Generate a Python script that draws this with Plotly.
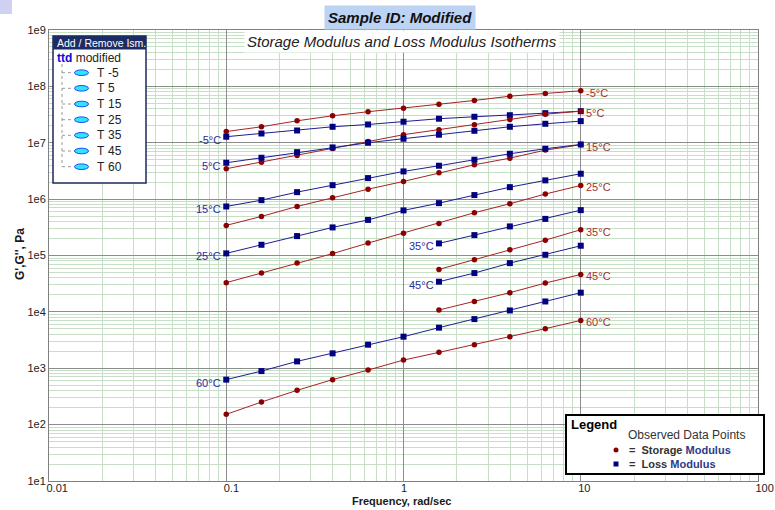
import math
import plotly.graph_objects as go

# ---------------- data ----------------
freq_full = [0.1, 0.158, 0.251, 0.398, 0.631, 1.0, 1.585, 2.512, 3.981, 6.31, 10.0]
freq_high = [1.585, 2.512, 3.981, 6.31, 10.0]

temps = ["-5", "5", "15", "25", "35", "45", "60"]

storage_m5 = [1.58e7, 1.92e7, 2.45e7, 3.01e7, 3.55e7, 4.10e7, 4.83e7, 5.62e7, 6.70e7, 7.48e7, 8.36e7]
loss_m5 = [1.28e7, 1.46e7, 1.65e7, 1.92e7, 2.11e7, 2.36e7, 2.67e7, 2.89e7, 3.08e7, 3.35e7, 3.63e7]
storage_5 = [3.46e6, 4.53e6, 5.96e6, 7.93e6, 1.05e7, 1.39e7, 1.70e7, 2.08e7, 2.59e7, 3.21e7, 3.63e7]
loss_5 = [4.42e6, 5.42e6, 6.81e6, 8.26e6, 1.0e7, 1.18e7, 1.39e7, 1.63e7, 1.92e7, 2.17e7, 2.42e7]
storage_15 = [3.42e5, 4.93e5, 7.41e5, 1.06e6, 1.50e6, 2.06e6, 2.94e6, 4.07e6, 5.33e6, 7.40e6, 9.23e6]
loss_15 = [7.41e5, 9.59e5, 1.33e6, 1.77e6, 2.36e6, 3.10e6, 3.91e6, 5.00e6, 6.38e6, 7.83e6, 9.33e6]
storage_25 = [3.30e4, 4.88e4, 7.33e4, 1.08e5, 1.66e5, 2.49e5, 3.71e5, 5.74e5, 8.28e5, 1.23e6, 1.75e6]
loss_25 = [1.09e5, 1.55e5, 2.21e5, 3.15e5, 4.28e5, 6.31e5, 8.49e5, 1.18e6, 1.63e6, 2.15e6, 2.82e6]
storage_35 = [5.67e4, 8.43e4, 1.27e5, 1.87e5, 2.87e5]
loss_35 = [1.64e5, 2.30e5, 3.28e5, 4.46e5, 6.38e5]
storage_45 = [1.08e4, 1.52e4, 2.19e4, 3.24e4, 4.62e4]
loss_45 = [3.43e4, 4.88e4, 7.33e4, 1.03e5, 1.49e5]
storage_60 = [152, 252, 406, 628, 929, 1396, 1914, 2618, 3631, 5035, 7063]
loss_60 = [628, 891, 1324, 1837, 2618, 3631, 5248, 7447, 1.06e4, 1.53e4, 2.19e4]

series = [
    ("-5", freq_full, storage_m5, loss_m5),
    ("5", freq_full, storage_5, loss_5),
    ("15", freq_full, storage_15, loss_15),
    ("25", freq_full, storage_25, loss_25),
    ("35", freq_high, storage_35, loss_35),
    ("45", freq_high, storage_45, loss_45),
    ("60", freq_full, storage_60, loss_60),
]

x_tick_vals = [0.01, 0.1, 1, 10, 100]
x_tick_text = ["0.01", "0.1", "1", "10", "100"]
y_tick_vals = [1e1, 1e2, 1e3, 1e4, 1e5, 1e6, 1e7, 1e8, 1e9]
y_tick_text = ["1e1", "1e2", "1e3", "1e4", "1e5", "1e6", "1e7", "1e8", "1e9"]

# ---------------- style ----------------
W, H = 775, 510
L, R, T, B = 49, 17, 30, 29
PW, PH = W - L - R, H - T - B
FONT = "Liberation Sans, Arial, sans-serif"
RED_M, RED_L, RED_T = "#8b0000", "#a42424", "#a83030"
BLU_M, BLU_L, BLU_T = "#000080", "#1e1e90", "#2c2ca0"


def px(x):
    return (x - L) / PW


def py(y):
    return 1 - (y - T) / PH


def note(x, y, text, size=12, color="#222", xanchor="left", **kw):
    d = dict(x=px(x), y=py(y), xref="paper", yref="paper", text=text, showarrow=False,
             xanchor=xanchor, yanchor="middle", font=dict(family=FONT, size=size, color=color))
    d.update(kw)
    return d


fig = go.Figure()

annotations = []
for name, fx, st, ls in series:
    fig.add_trace(go.Scatter(x=fx, y=st, mode="lines+markers", showlegend=False,
                             line=dict(color=RED_L, width=1),
                             marker=dict(symbol="circle", size=5.5, color=RED_M)))
    fig.add_trace(go.Scatter(x=fx, y=ls, mode="lines+markers", showlegend=False,
                             line=dict(color=BLU_L, width=1),
                             marker=dict(symbol="square", size=6, color=BLU_M)))
    annotations.append(dict(x=math.log10(fx[0]), y=math.log10(ls[0]), xref="x", yref="y",
                            text=name + "°C", showarrow=False, xanchor="right", yanchor="middle",
                            xshift=-3, yshift=-3, font=dict(family=FONT, size=11, color=BLU_T)))
    annotations.append(dict(x=math.log10(fx[-1]), y=math.log10(st[-1]), xref="x", yref="y",
                            text=name + "°C", showarrow=False, xanchor="left", yanchor="middle",
                            xshift=3, yshift=-2, font=dict(family=FONT, size=11, color=RED_T)))

minor_vals = [k * 10 ** e for e in range(-2, 9) for k in range(2, 10)]

fig.update_xaxes(type="log", range=[-2, 2], tickmode="array", tickvals=x_tick_vals,
                 ticktext=x_tick_text, ticks="", ticklabelposition="outside right",
                 ticklabeloverflow="allow", ticklabelshift=-3, ticklabelstandoff=-3,
                 tickfont=dict(family=FONT, size=11, color="#222"),
                 showgrid=True, gridcolor="#8c8c8c", gridwidth=1, zeroline=False,
                 showline=True, linecolor="#808080", linewidth=1, mirror=True,
                 minor=dict(tickmode="array", tickvals=[v for v in minor_vals if 0.01 < v < 100],
                            showgrid=True, gridcolor="#c6dfc6", gridwidth=1, ticks=""),
                 automargin=False)
fig.update_yaxes(type="log", range=[1, 9], tickmode="array", tickvals=y_tick_vals,
                 ticktext=y_tick_text, ticks="",
                 tickfont=dict(family=FONT, size=11, color="#222"),
                 showgrid=True, gridcolor="#8c8c8c", gridwidth=1, zeroline=False,
                 showline=True, linecolor="#808080", linewidth=1, mirror=True,
                 minor=dict(tickmode="array", tickvals=[v for v in minor_vals if 10 < v < 1e9],
                            showgrid=True, gridcolor="#c6dfc6", gridwidth=1, ticks=""),
                 automargin=False)

shapes = []
# corner decoration
shapes.append(dict(type="rect", xref="paper", yref="paper", x0=px(0), x1=px(12), y0=py(0), y1=py(14),
                   fillcolor="#cfd0f2", line=dict(width=0), layer="above"))
annotations.append(note(400, 17, "<b><i>Sample ID: Modified</i></b>", size=15, color="#111",
                        xanchor="center", bgcolor="#bcd3f4", borderpad=3))
annotations.append(note(402, 41, "<i>Storage Modulus and Loss Modulus Isotherms</i>", size=15,
                        color="#222", xanchor="center", bgcolor="white", borderpad=2))
# axis titles
annotations.append(note(20, 254, "<b>G',G'', Pa</b>", size=12, color="#1a1a1a", xanchor="center",
                        textangle=-90))
annotations.append(note(401, 501, "<b>Frequency, rad/sec</b>", size=11, color="#1a1a1a",
                        xanchor="center"))

# ---- left panel "Add / Remove Ism." ----
shapes.append(dict(type="rect", xref="paper", yref="paper", x0=px(53), x1=px(146), y0=py(36), y1=py(183),
                   fillcolor="white", line=dict(color="#1c2a5c", width=1.5), layer="above"))
shapes.append(dict(type="rect", xref="paper", yref="paper", x0=px(53), x1=px(146), y0=py(36), y1=py(49.5),
                   fillcolor="#1c2c64", line=dict(width=0), layer="above"))
annotations.append(note(54.5, 42.8, "Add / Remove Ism.", size=10.5, color="white"))
annotations.append(note(55, 58, "<b><span style='color:#0a0ad8'>ttd</span></b> modified", size=12))
item_y = [72.7, 88.3, 104, 119.7, 135.3, 151, 166.7]
shapes.append(dict(type="line", xref="paper", yref="paper", x0=px(62), x1=px(62), y0=py(64), y1=py(item_y[-1]),
                   line=dict(color="#9a9a9a", width=1, dash="dot"), layer="above"))
for t, yy in zip(temps, item_y):
    shapes.append(dict(type="line", xref="paper", yref="paper", x0=px(62), x1=px(74), y0=py(yy), y1=py(yy),
                       line=dict(color="#9a9a9a", width=1, dash="dot"), layer="above"))
    shapes.append(dict(type="circle", xref="paper", yref="paper", x0=px(74.5), x1=px(88.5),
                       y0=py(yy - 2.8), y1=py(yy + 2.8),
                       fillcolor="#2ee4ff", line=dict(color="#1848f0", width=1), layer="above"))
    annotations.append(note(95, yy, "T", size=12))
    annotations.append(note(106, yy, t, size=12))

# ---- bottom-right legend ----
shapes.append(dict(type="rect", xref="paper", yref="paper", x0=px(566), x1=px(764), y0=py(415), y1=py(474),
                   fillcolor="white", line=dict(color="black", width=2), layer="above"))
annotations.append(note(569, 424, "<b>Legend</b>", size=13, color="black"))
annotations.append(note(626, 435, "Observed Data Points", size=12, color="#333"))
shapes.append(dict(type="circle", xref="paper", yref="paper", x0=px(613.5), x1=px(618.5), y0=py(447.5), y1=py(452.5),
                   fillcolor=RED_M, line=dict(width=0), layer="above"))
shapes.append(dict(type="rect", xref="paper", yref="paper", x0=px(613.5), x1=px(618.5), y0=py(461.5), y1=py(466.5),
                   fillcolor=BLU_M, line=dict(width=0), layer="above"))
annotations.append(note(627, 449.5, "<b>=  Storage <span style='color:#2c3a8c'>Modulus</span></b>",
                        size=11, color="#333"))
annotations.append(note(627, 464, "<b>=  Loss <span style='color:#2c3a8c'>Modulus</span></b>",
                        size=11, color="#333"))

fig.update_layout(width=W, height=H, autosize=False,
                  margin=dict(l=L, r=R, t=T, b=B, pad=0),
                  plot_bgcolor="white", paper_bgcolor="white",
                  showlegend=False, shapes=shapes, annotations=annotations,
                  font=dict(family=FONT))

fig.write_html("out.html")
